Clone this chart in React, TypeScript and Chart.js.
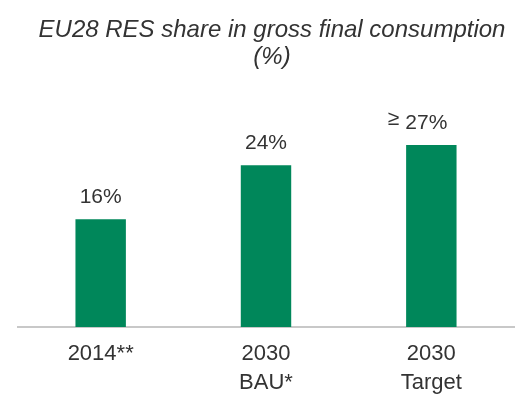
import { useEffect, useRef } from 'react';
import { Chart, registerables } from 'chart.js';

Chart.register(...registerables);

const categories = [['2014**'], ['2030', 'BAU*'], ['2030', 'Target']];
const values = [16, 24, 27];
const valueLabels = ['16%', '24%', '27%'];
const valuePrefixes = ['', '', '≥'];
const titleLines = ['EU28 RES share in gross final consumption', '(%)'];

const FONT = '"Liberation Sans", Arial, sans-serif';
const TEXT = '#333333';
const GREEN = '#00875A';

const valueLabelPlugin = {
  id: 'valueLabels',
  afterDatasetsDraw(chart: any) {
    const ctx = chart.ctx;
    const meta = chart.getDatasetMeta(0);
    ctx.save();
    ctx.font = `21px ${FONT}`;
    ctx.fillStyle = TEXT;
    ctx.textBaseline = 'middle';
    meta.data.forEach((bar: any, i: number) => {
      const p = valuePrefixes[i];
      const x = bar.x - (p ? 5 : 0);
      const y = bar.y - 22;
      ctx.textAlign = 'center';
      ctx.fillText(valueLabels[i], x, y);
      if (p) {
        const w = ctx.measureText(valueLabels[i]).width;
        ctx.textAlign = 'right';
        ctx.fillText(p, x - w / 2 - 6, y - 4);
      }
    });
    ctx.restore();
  },
};

const titlePlugin = {
  id: 'customTitle',
  afterDraw(chart: any) {
    const ctx = chart.ctx;
    ctx.save();
    ctx.font = `italic 24px ${FONT}`;
    ctx.fillStyle = TEXT;
    ctx.textAlign = 'center';
    ctx.textBaseline = 'middle';
    const cx = 272;
    titleLines.forEach((t, i) => ctx.fillText(t, cx, 30 + i * 27));
    ctx.restore();
  },
};

export default function App() {
  const ref = useRef<HTMLCanvasElement>(null);
  useEffect(() => {
    document.body.style.margin = '0';
    const chart = new Chart(ref.current!, {
      type: 'bar',
      data: {
        labels: categories as any,
        datasets: [
          {
            data: values,
            backgroundColor: GREEN,
            borderWidth: 0,
            barPercentage: 0.305,
            categoryPercentage: 1,
          },
        ],
      },
      options: {
        animation: false,
        responsive: false,
        layout: { padding: { top: 100, left: 18, right: 14, bottom: -3 } },
        plugins: {
          legend: { display: false },
          title: { display: false },
          tooltip: { enabled: false },
        },
        scales: {
          x: {
            grid: { display: false, drawTicks: false },
            border: { display: true, color: '#c8c8c8', width: 2 },
            ticks: {
              color: TEXT,
              padding: 12,
              font: { family: FONT, size: 22, lineHeight: 1.32 },
            },
          },
          y: { display: false, min: 0, max: 33.7 },
        },
      },
      plugins: [valueLabelPlugin, titlePlugin],
    });
    return () => chart.destroy();
  }, []);
  return <canvas ref={ref} width={528} height={406} style={{ display: 'block' }} />;
}
